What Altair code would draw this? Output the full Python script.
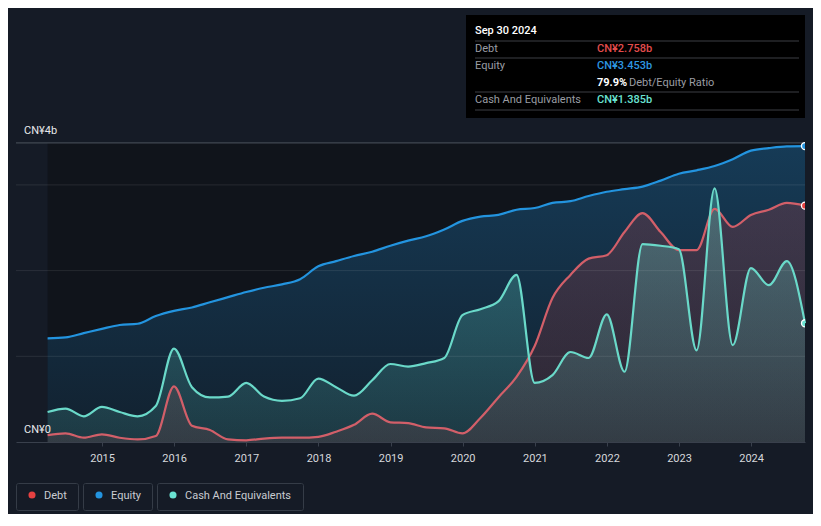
import altair as alt
import pandas as pd

# Quarter-end dates (Mar 2014 .. Sep 2024)
quarters = [f"{y}-{md}" for y in range(2014, 2025) for md in ["03-31", "06-30", "09-30", "12-31"]][:-1]

# Values in CN¥ billions
debt = [0.08, 0.10, 0.05, 0.09, 0.05, 0.03, 0.07, 0.65, 0.19, 0.14, 0.03, 0.02,
        0.04, 0.05, 0.05, 0.06, 0.12, 0.20, 0.33, 0.23, 0.22, 0.17, 0.16, 0.10,
        0.28, 0.52, 0.76, 1.12, 1.68, 1.95, 2.14, 2.18, 2.45, 2.67, 2.45, 2.24,
        2.24, 2.72, 2.51, 2.65, 2.71, 2.79, 2.758]
equity = [1.21, 1.22, 1.27, 1.32, 1.365, 1.38, 1.47, 1.53, 1.57, 1.63, 1.69, 1.75,
          1.80, 1.84, 1.90, 2.05, 2.11, 2.17, 2.22, 2.29, 2.35, 2.40, 2.48, 2.58,
          2.63, 2.65, 2.71, 2.73, 2.79, 2.81, 2.87, 2.92, 2.95, 2.98, 3.05, 3.13,
          3.17, 3.22, 3.30, 3.40, 3.43, 3.45, 3.453]
cash = [0.35, 0.39, 0.30, 0.41, 0.35, 0.30, 0.42, 1.09, 0.64, 0.52, 0.53, 0.69,
        0.53, 0.48, 0.51, 0.74, 0.64, 0.54, 0.72, 0.91, 0.88, 0.92, 0.98, 1.48,
        1.55, 1.64, 1.95, 0.69, 0.78, 1.05, 0.98, 1.49, 0.82, 2.31, 2.29, 2.25,
        1.07, 2.96, 1.13, 2.03, 1.83, 2.11, 1.385]

grid_values = [1, 2, 3]
frame_top = 3.49
y_labels = ["CN¥4b", "CN¥0"]
series_names = ["Debt", "Equity", "Cash And Equivalents"]
legend_colors = ["#e64141", "#2394df", "#6ae3d2"]
line_colors = ["#d25f69", "#2394df", "#6ad9c9"]

tooltip_title = "Sep 30 2024"
tooltip_rows = [("Debt", "CN¥2.758b"), ("Equity", "CN¥3.453b"), ("Cash And Equivalents", "CN¥1.385b")]
ratio_value = "79.9%"
ratio_label = "Debt/Equity Ratio"

FONT = "Roboto"
W, H = 789, 434

df = pd.DataFrame({"date": quarters, "Debt": debt, "Equity": equity, "Cash": cash})
last = df.iloc[[-1]]

x_scale = alt.Scale(domain=[alt.DateTime(year=2013, month=10, date=22),
                            alt.DateTime(year=2024, month=9, date=30)])
y_scale = alt.Scale(domain=[0, 434 / 85.7], nice=False)

x_enc = alt.X("date:T", scale=x_scale, title=None,
              axis=alt.Axis(values=[alt.DateTime(year=y, month=1, date=1) for y in range(2015, 2025)],
                            format="%Y", labelColor="#d6d8dc", labelFont=FONT, labelFontSize=11,
                            labelPadding=6, domainColor="#39404c", tickColor="#39404c",
                            tickSize=4, grid=False))


def grad(rgb, a0, a1):
    return alt.Gradient(gradient="linear",
                        stops=[alt.GradientStop(color=f"rgba({rgb},{a0})", offset=0),
                               alt.GradientStop(color=f"rgba({rgb},{a1})", offset=1)],
                        x1=0, x2=0, y1=0, y2=1)


bg = alt.Chart(pd.DataFrame({"s": [quarters[0]], "e": [quarters[-1]], "top": [frame_top]})).mark_rect(
    color="#10141b").encode(
    x=alt.X("s:T", scale=x_scale), x2="e:T",
    y=alt.Y("top:Q", scale=y_scale, axis=None), y2=alt.datum(0))

base = alt.Chart(df)
eq_area = base.mark_area(interpolate="monotone", color=grad("35,148,223", 0.30, 0.10)).encode(
    x=x_enc, y=alt.Y("Equity:Q", scale=y_scale, axis=None))
debt_area = base.mark_area(interpolate="monotone", color=grad("230,65,65", 0.20, 0.12)).encode(
    x=x_enc, y=alt.Y("Debt:Q", scale=y_scale))
cash_area = base.mark_area(interpolate="monotone", color=grad("106,227,210", 0.30, 0.12)).encode(
    x=x_enc, y=alt.Y("Cash:Q", scale=y_scale))

grid = alt.Chart(pd.DataFrame({"v": grid_values})).mark_rule(
    color="rgba(255,255,255,0.09)", strokeWidth=1).encode(
    y=alt.Y("v:Q", scale=y_scale), x=alt.value(0), x2=alt.value(W))
top_rule = alt.Chart(pd.DataFrame({"v": [frame_top]})).mark_rule(
    color="#4c535e", strokeWidth=1).encode(
    y=alt.Y("v:Q", scale=y_scale), x=alt.value(0), x2=alt.value(W))

lines = []
for field, col in zip(["Debt", "Equity", "Cash"], line_colors):
    lines.append(base.mark_line(interpolate="monotone", color=col, strokeWidth=2.2).encode(
        x=x_enc, y=alt.Y(f"{field}:Q", scale=y_scale)))

dots = []
for field, col in zip(["Debt", "Equity", "Cash"], legend_colors):
    dots.append(alt.Chart(last).mark_circle(size=50, color=col, opacity=1, stroke="white",
                                            strokeWidth=1.3, clip=True).encode(
        x=alt.X("date:T", scale=x_scale), y=alt.Y(f"{field}:Q", scale=y_scale)))

ylab = []
for txt, ypix in zip(y_labels, [123, 422]):
    ylab.append(alt.Chart(pd.DataFrame({"t": [txt]})).mark_text(
        align="left", baseline="middle", font=FONT, fontSize=11, color="#e8e9eb").encode(
        text="t:N", x=alt.value(8), y=alt.value(ypix)))

# Tooltip box
deco = []
deco.append(alt.Chart(pd.DataFrame({"a": [0]})).mark_rect(color="#000000").encode(
    x=alt.value(450), x2=alt.value(789), y=alt.value(7), y2=alt.value(110)))
deco.append(alt.Chart(pd.DataFrame({"t": [tooltip_title]})).mark_text(
    align="left", baseline="middle", font=FONT, fontSize=11, fontWeight=500, color="#ffffff").encode(
    text="t:N", x=alt.value(459), y=alt.value(23)))
for ysep in [33, 50, 84, 102]:
    deco.append(alt.Chart(pd.DataFrame({"a": [0]})).mark_rule(color="#3d3f44", strokeWidth=1).encode(
        x=alt.value(459), x2=alt.value(783), y=alt.value(ysep)))
row_y = [41, 58, 92]
val_colors = ["#e24c4c", "#2d96e0", "#6ae3d2"]
for (lab, val), ry, vc in zip(tooltip_rows, row_y, val_colors):
    deco.append(alt.Chart(pd.DataFrame({"t": [lab]})).mark_text(
        align="left", baseline="middle", font=FONT, fontSize=11, color="#9a9da3").encode(
        text="t:N", x=alt.value(459), y=alt.value(ry)))
    deco.append(alt.Chart(pd.DataFrame({"t": [val]})).mark_text(
        align="left", baseline="middle", font=FONT, fontSize=11, fontWeight=500, color=vc).encode(
        text="t:N", x=alt.value(581), y=alt.value(ry)))
deco.append(alt.Chart(pd.DataFrame({"t": [ratio_value]})).mark_text(
    align="left", baseline="middle", font=FONT, fontSize=11, fontWeight="bold", color="#ffffff").encode(
    text="t:N", x=alt.value(581), y=alt.value(75)))
deco.append(alt.Chart(pd.DataFrame({"t": [ratio_label]})).mark_text(
    align="left", baseline="middle", font=FONT, fontSize=11, color="#9a9da3").encode(
    text="t:N", x=alt.value(613), y=alt.value(75)))

# Legend
legend_boxes = [(0, 62), (67, 136), (141, 287)]
for name, col, (bx0, bx1) in zip(series_names, legend_colors, legend_boxes):
    deco.append(alt.Chart(pd.DataFrame({"a": [0]})).mark_rect(
        fill="#151b26", stroke="#353c47", strokeWidth=1, cornerRadius=2).encode(
        x=alt.value(bx0 + 0.5), x2=alt.value(bx1 + 0.5), y=alt.value(475.5), y2=alt.value(502.5)))
    deco.append(alt.Chart(pd.DataFrame({"a": [0]})).mark_circle(size=50, color=col, opacity=1).encode(
        x=alt.value(bx0 + 16), y=alt.value(487)))
    deco.append(alt.Chart(pd.DataFrame({"t": [name]})).mark_text(
        align="left", baseline="middle", font=FONT, fontSize=11, color="#c9ccd1").encode(
        text="t:N", x=alt.value(bx0 + 28), y=alt.value(488)))

chart = alt.layer(
    bg, eq_area, debt_area, cash_area, grid, top_rule, *lines, *dots, *ylab, *deco
).properties(
    width=W, height=H,
    autosize=alt.AutoSizeParams(type="none"),
    padding={"left": 8, "top": 0, "right": 8, "bottom": 72},
    background="#151b26",
).configure_view(stroke=None)

chart.save("out.html", embed_options={"renderer": "svg", "actions": False})
